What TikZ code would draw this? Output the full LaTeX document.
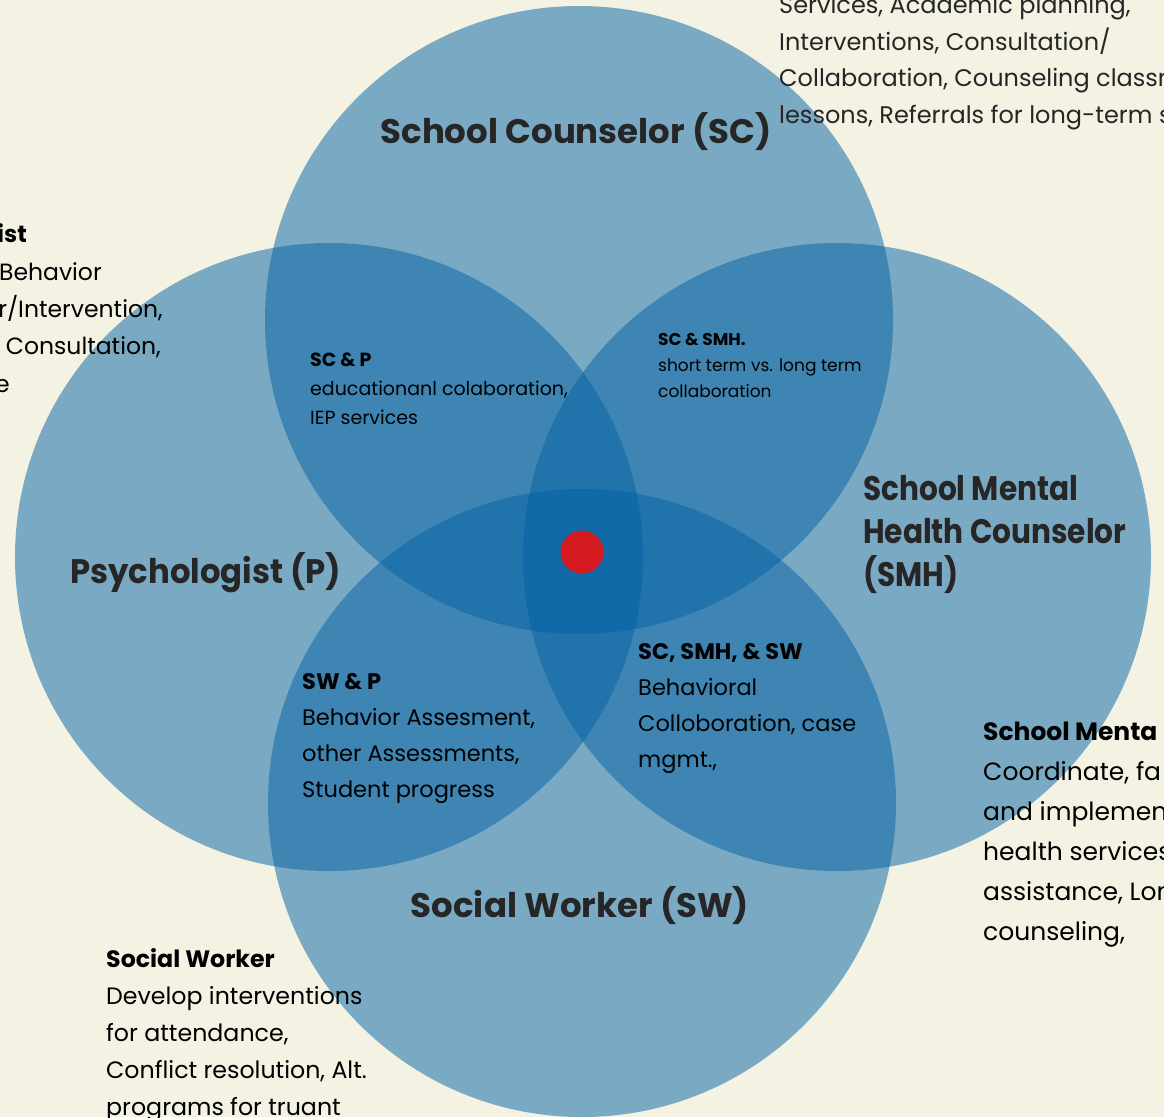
\documentclass[tikz,border=0pt]{standalone}
\usepackage{fontspec}
\setmainfont{Poppins}
\newfontfamily\narrowfont{Poppins}[FakeStretch=0.87]
\newfontfamily\psyfont{Poppins}[FakeStretch=0.95]
\definecolor{bgc}{RGB}{243,242,227}
\definecolor{vblue}{RGB}{3,98,165}
\definecolor{dotc}{RGB}{212,26,30}
\definecolor{ttlc}{RGB}{38,38,38}
\begin{document}
\begin{tikzpicture}[x=1pt,y=-1pt,
  venn/.style={circle, minimum size=628pt, inner sep=0pt, fill=vblue, fill opacity=0.5, draw=none},
  ttl/.style={inner sep=0pt, text=ttlc, align=left, font=\fontsize{34}{43}\selectfont\bfseries},
  lbl/.style={anchor=base west, inner sep=0pt, text=black, align=left},
  side/.style={anchor=base west, inner sep=0pt, text=black, align=left},
  frag/.style={anchor=base east, inner sep=0pt, text=black, font=\fontsize{23.5}{37.5}\selectfont}
]
\useasboundingbox (0,0) rectangle (1164,1117);
\fill[bgc] (0,0) rectangle (1164,1117);

% circles
\node[venn] (sc)  at (579,320) {};
\node[venn] (p)   at (329,557) {};
\node[venn] (smh) at (837,557) {};
\node[venn] (sw)  at (582,803) {};
\node[circle, fill=dotc, minimum size=43pt, inner sep=0pt] (dot) at (582,552) {};

% titles (multi-line nodes are placed by the baseline of their last line)
\node[ttl, anchor=base] (tsc) at (576,143) {School Counselor (SC)};
\node[ttl, anchor=base west, font=\fontsize{34}{43}\psyfont\bfseries] (tp) at (70,583) {Psychologist (P)};
\node[ttl, anchor=base west, font=\fontsize{34}{43}\narrowfont\bfseries] (tsmh) at (863,586) {School Mental\\Health Counselor\\(SMH)};
\node[ttl, anchor=base] (tsw) at (580,917) {Social Worker (SW)};

% overlap labels
\node[lbl, font=\fontsize{19}{29}\selectfont] (scp) at (310,424)
  {\textbf{SC \& P}\\educationanl colaboration,\\IEP services};
\node[lbl, font=\fontsize{17}{26}\selectfont] (scsmh) at (658,397)
  {\textbf{SC \& SMH.}\\short term vs. long term\\collaboration};
\node[lbl, font=\fontsize{22.5}{36}\selectfont] (swp) at (302,797)
  {\textbf{SW \& P}\\Behavior Assesment,\\other Assessments,\\Student progress};
\node[lbl, font=\fontsize{22.5}{36}\selectfont] (three) at (638,767)
  {\textbf{SC, SMH, \& SW}\\Behavioral\\Colloboration, case\\mgmt.,};

% side texts
\node[side, font=\fontsize{24}{36.5}\selectfont, text=ttlc] (trt) at (779,123)
  {Services, Academic planning,\\Interventions, Consultation/\\Collaboration, Counseling classro\\lessons, Referrals for long-term su};
\node[side, font=\fontsize{25}{40}\selectfont] (rt) at (983,940)
  {\textbf{School Menta}\\Coordinate, fa\\and implement\\health services\\assistance, Lon\\counseling,};
\node[side, font=\fontsize{23.7}{37}\selectfont] (blt) at (106,1115)
  {\textbf{Social Worker}\\Develop interventions\\for attendance,\\Conflict resolution, Alt.\\programs for truant};

\node[frag, font=\fontsize{23.5}{37.5}\selectfont\bfseries] (l1) at (27,242) {ist};
\node[frag] (l2) at (102,280) {Behavior};
\node[frag] (l3) at (163,317) {r/Intervention,};
\node[frag] (l4) at (161,354) {Consultation,};
\node[frag] (l5) at (10,392) {e};
\end{tikzpicture}
\end{document}
